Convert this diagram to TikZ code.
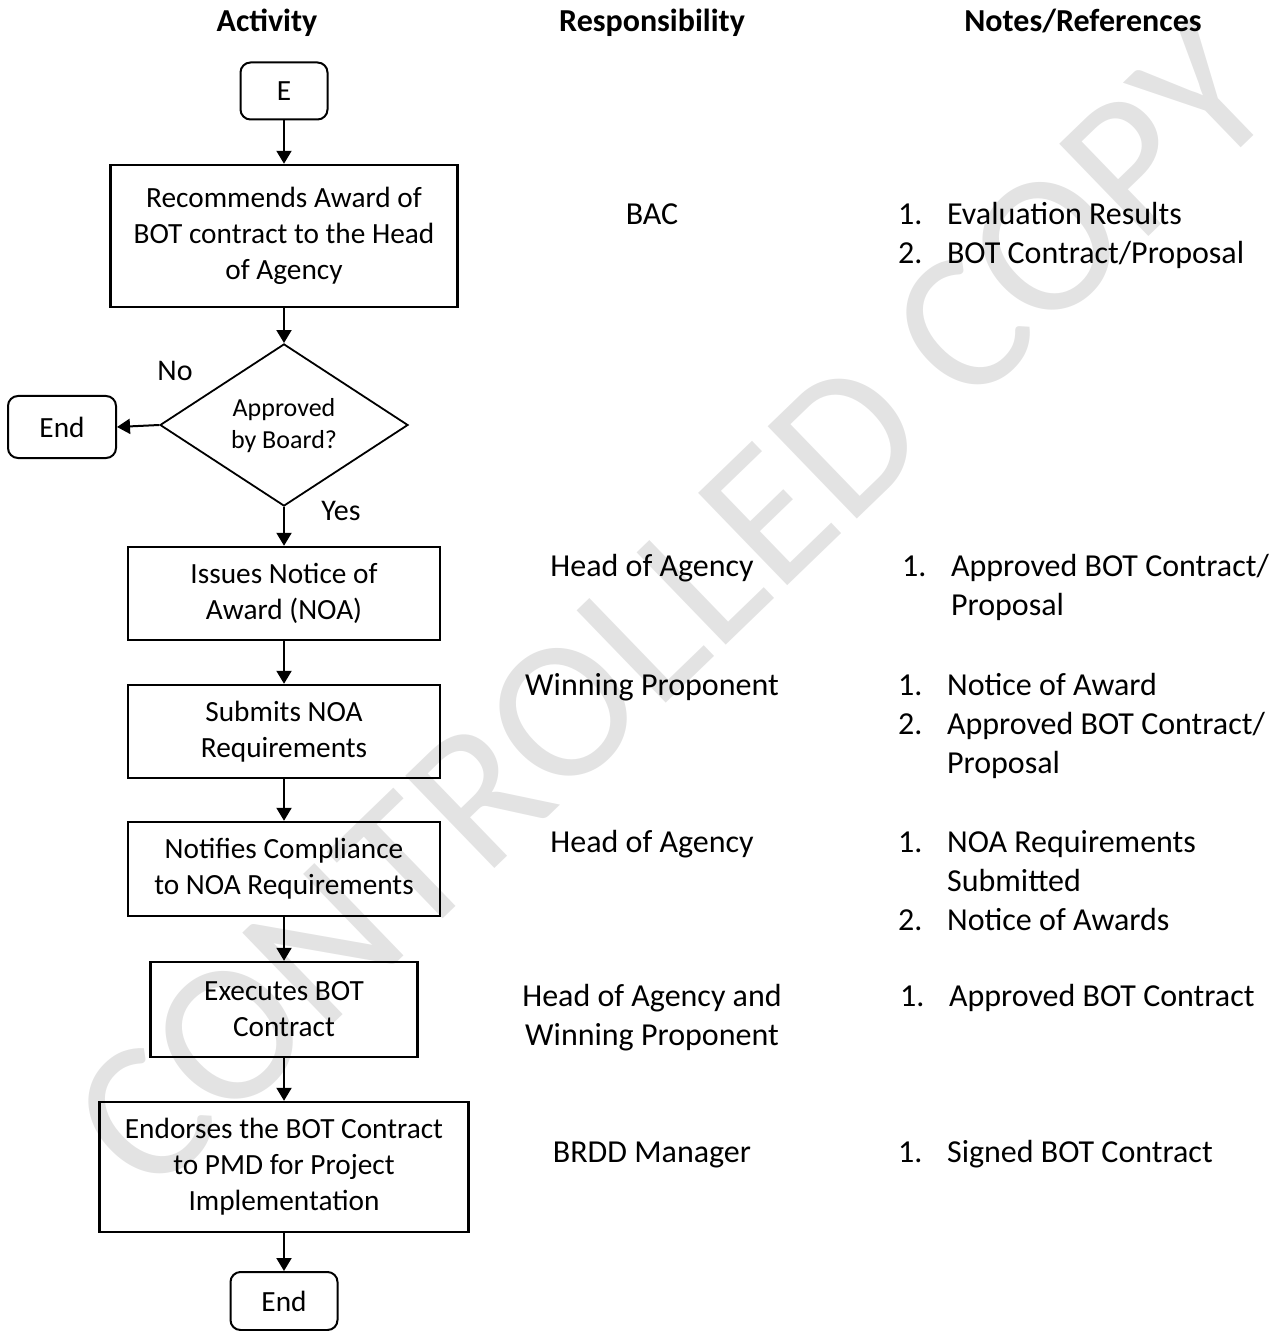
\documentclass[tikz,border=0pt]{standalone}
\usepackage{fontspec}
\setmainfont{Carlito}
\usepackage{tikz}
\usetikzlibrary{arrows.meta,shapes.geometric}
\newcommand{\boxfont}{\fontsize{14.65}{18}\selectfont}
\newcommand{\colfont}{\fontsize{16}{19.5}\selectfont}
\tikzset{
  % flowchart boxes
  procbox/.style={draw,line width=1.2pt,align=center,inner sep=0pt,font=\boxfont},
  termbox/.style={procbox,line width=1pt,rounded corners=5pt},
  decision/.style={diamond,draw,line width=0.9pt,inner sep=0pt,align=center,
    minimum width=124pt,minimum height=61pt,font=\fontsize{13}{16}\selectfont},
  % connectors
  flow/.style={line width=1pt,-{Triangle[length=6.5pt,width=7.5pt]}},
  % columns
  head/.style={font=\colfont\bfseries,anchor=base},
  resp/.style={font=\colfont,anchor=base},
  num/.style={font=\colfont,anchor=base west},
  item/.style={font=\colfont,anchor=base west},
}

\begin{document}
\begin{tikzpicture}[x=0.5pt,y=-0.5pt]
\useasboundingbox (0,0) rectangle (1271,1331);
\def\xc{284}
%% watermark
\node[font=\fontsize{100}{104}\selectfont,text=black!11,rotate=44] (wm) at (672,608) {CONTROLLED COPY};

%% column headings
\node[head] (hact)  at (267,32)  {Activity};
\node[head] (hresp) at (652,32)  {Responsibility};
\node[head] (hnote) at (1083,32) {Notes/References};

%% ===== activity flow =====
\node[termbox,minimum width=43.5pt,minimum height=28.5pt] (e) at (\xc,91) {E};
\node[procbox,minimum width=173.5pt,minimum height=71pt] (recom) at (\xc,236)
  {Recommends Award of\\BOT contract to the Head\\of Agency};
\node[decision] (approved) at (\xc,425) {\\[-6pt]Approved\\by Board?};
\node[termbox,minimum width=54pt,minimum height=31pt] (endA) at (62,427) {End};
\node[procbox,minimum width=156pt,minimum height=46.5pt] (issue) at (\xc,593.5)
  {Issues Notice of\\Award (NOA)};
\node[procbox,minimum width=156pt,minimum height=46.5pt] (submit) at (\xc,731.5)
  {Submits NOA\\Requirements};
\node[procbox,minimum width=156pt,minimum height=47pt] (notify) at (\xc,869)
  {Notifies Compliance\\to NOA Requirements};
\node[procbox,minimum width=133.5pt,minimum height=47.5pt] (execute) at (\xc,1009.5)
  {Executes BOT\\Contract};
\node[procbox,minimum width=184.5pt,minimum height=65pt] (endorse) at (\xc,1167)
  {Endorses the BOT Contract\\to PMD for Project\\Implementation};
\node[termbox,minimum width=53.5pt,minimum height=29pt] (endB) at (\xc,1301) {End};

\node[font=\fontsize{15}{18}\selectfont] (no)  at (175,371) {No};
\node[font=\fontsize{15}{18}\selectfont] (yes) at (341,511) {Yes};

\draw[flow] (e) -- (recom);
\draw[flow] (recom) -- (approved);
\draw[flow] (approved.west) -- (endA.east);
\draw[flow] (approved) -- (issue);
\draw[flow] (issue) -- (submit);
\draw[flow] (submit) -- (notify);
\draw[flow] (notify) -- (execute);
\draw[flow] (execute) -- (endorse);
\draw[flow] (endorse) -- (endB);

%% ===== responsibility =====
\node[resp] (r1)  at (652,225)  {BAC};
\node[resp] (r2)  at (652,576)  {Head of Agency};
\node[resp] (r3)  at (652,695)  {Winning Proponent};
\node[resp] (r4)  at (652,852)  {Head of Agency};
\node[resp] (r5a) at (652,1006) {Head of Agency and};
\node[resp] (r5b) at (652,1045) {Winning Proponent};
\node[resp] (r6)  at (652,1162) {BRDD Manager};

%% ===== notes / references =====
\node[num]  (n1a) at (891,225) {1.};  \node[item] (t1a) at (940,225) {Evaluation Results};
\node[num]  (n1b) at (891,264) {2.};  \node[item] (t1b) at (940,264) {BOT Contract/Proposal};
\node[num]  (n2a) at (895,576) {1.};  \node[item] (t2a) at (944,576) {Approved BOT Contract/};
                                      \node[item] (t2b) at (944,615) {Proposal};
\node[num]  (n3a) at (891,695) {1.};  \node[item] (t3a) at (940,695) {Notice of Award};
\node[num]  (n3b) at (891,734) {2.};  \node[item] (t3b) at (940,734) {Approved BOT Contract/};
                                      \node[item] (t3c) at (940,773) {Proposal};
\node[num]  (n4a) at (891,852) {1.};  \node[item] (t4a) at (940,852) {NOA Requirements};
                                      \node[item] (t4b) at (940,891) {Submitted};
\node[num]  (n4c) at (891,930) {2.};  \node[item] (t4c) at (940,930) {Notice of Awards};
\node[num]  (n5a) at (893,1006) {1.}; \node[item] (t5a) at (942,1006) {Approved BOT Contract};
\node[num]  (n6a) at (891,1162) {1.}; \node[item] (t6a) at (940,1162) {Signed BOT Contract};
\end{tikzpicture}
\end{document}
